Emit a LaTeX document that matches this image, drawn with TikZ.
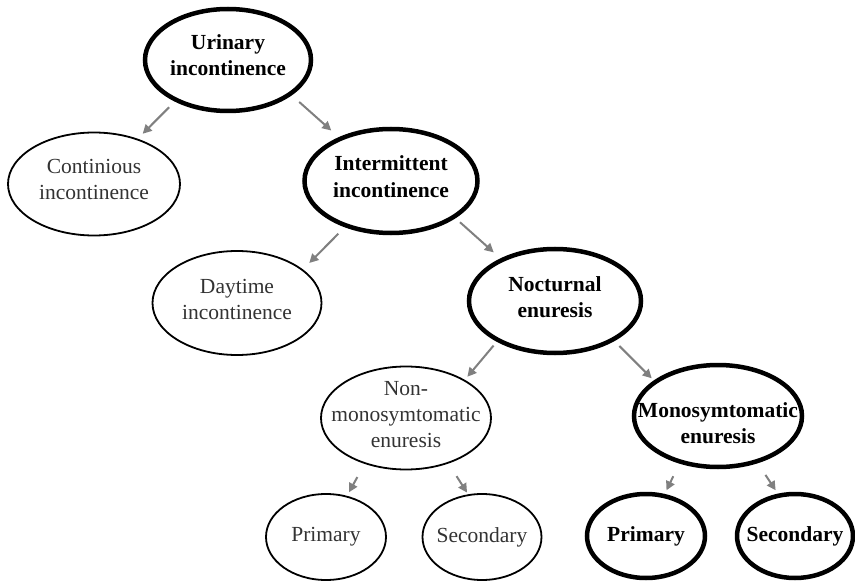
\documentclass[tikz,border=0pt]{standalone}
\usepackage{fontspec}
\setmainfont{Liberation Serif}
\usetikzlibrary{shapes.geometric, arrows.meta}

\begin{document}
\begin{tikzpicture}[x=1pt, y=-1pt,
every node/.style={ellipse, align=center, inner sep=-25pt, font=\fontsize{21.5}{26}\selectfont},
side/.style={draw, line width=1.8pt, text=black!80},
main/.style={draw, line width=4.5pt, font=\fontsize{21.5}{26}\selectfont\bfseries},
twoline/.style={text height=40pt, text depth=8pt},
arr/.style={draw=black!50, line width=2pt, >={Triangle[length=9pt,width=9pt]}, ->}]
\useasboundingbox (0,0) rectangle (855,583);
\node[main, twoline, minimum width=166pt, minimum height=102pt] (urin) at (228,60) {Urinary\\incontinence};
\node[side, twoline, minimum width=172pt, minimum height=103pt] (cont) at (94,184) {Continious\\incontinence};
\node[main, twoline, minimum width=173pt, minimum height=104pt] (inter) at (391,181) {Intermittent\\incontinence};
\node[side, twoline, minimum width=169pt, minimum height=104pt] (day) at (237,303) {Daytime\\incontinence};
\node[main, twoline, minimum width=172pt, minimum height=104pt] (noct) at (555,301) {Nocturnal\\enuresis};
\node[side, text height=66pt, text depth=7pt, minimum width=170pt, minimum height=103pt] (nonm) at (406,418) {Non-\\monosymtomatic\\enuresis};
\node[main, text height=55pt, text depth=0pt, minimum width=168pt, minimum height=102pt] (mono) at (718,416) {Monosymtomatic\\enuresis};
\node[side, minimum width=120pt, minimum height=86pt] (prim1) at (326,537) {Primary};
\node[side, minimum width=119pt, minimum height=86pt] (sec1) at (482,537) {Secondary};
\node[main, minimum width=118pt, minimum height=84pt] (prim2) at (646,536) {Primary};
\node[main, minimum width=116pt, minimum height=84pt] (sec2) at (795,536) {Secondary};
\draw[arr, shorten <=8pt, shorten >=7pt] (urin.218) -- (cont.46);
\draw[arr, shorten <=10pt, shorten >=10pt] (urin.331) -- (inter.140);
\draw[arr, shorten <=9pt, shorten >=9pt] (inter.225) -- (day.27);
\draw[arr, shorten <=6pt, shorten >=9pt] (inter.330) -- (noct.142);
\draw[arr, shorten <=5pt, shorten >=4pt] (noct.215) -- (nonm.33);
\draw[arr, shorten <=7pt, shorten >=3pt] (noct.326) -- (mono.151);
\draw[arr, shorten <=15pt, shorten >=4pt] (nonm.228) -- (prim1.63);
\draw[arr, shorten <=15pt, shorten >=2pt] (nonm.313) -- (sec1.108);
\draw[arr, shorten <=14pt, shorten >=4pt] (mono.231) -- (prim2.66);
\draw[arr, shorten <=14pt, shorten >=4pt] (mono.310) -- (sec2.112);
\end{tikzpicture}
\end{document}
